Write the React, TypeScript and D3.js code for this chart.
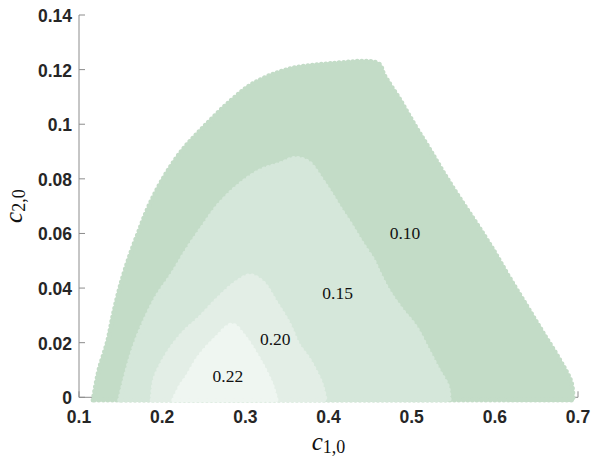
import React from 'react';
import * as d3 from 'd3';

// contour levels and their fills (outer to inner)
const levels = ['0.10', '0.15', '0.20', '0.22'];
const levelColors = ['#c3dcc7', '#d5e7da', '#e3eee6', '#eff6f1'];

// boundary of each feasible region, [c10, c20]
const region010: [number, number][] = [
  [0.117, -0.001], [0.124, 0.01], [0.134, 0.02], [0.141, 0.03], [0.149, 0.04],
  [0.159, 0.05], [0.171, 0.06], [0.184, 0.07], [0.201, 0.08], [0.223, 0.09],
  [0.25, 0.099], [0.284, 0.109], [0.31, 0.115], [0.35, 0.12], [0.402, 0.1222],
  [0.46, 0.1222], [0.467, 0.118], [0.486, 0.1089], [0.505, 0.099], [0.522, 0.0906],
  [0.54, 0.0814], [0.559, 0.0723], [0.579, 0.0631], [0.598, 0.054], [0.617, 0.0441],
  [0.639, 0.0331], [0.658, 0.0236], [0.678, 0.0137], [0.692, 0.0053], [0.694, -0.001],
];
const region015: [number, number][] = [
  [0.149, -0.001], [0.158, 0.01], [0.167, 0.019], [0.179, 0.028], [0.194, 0.037],
  [0.212, 0.045], [0.23, 0.054], [0.248, 0.062], [0.267, 0.07], [0.29, 0.077],
  [0.318, 0.083], [0.342, 0.0855], [0.36, 0.0875], [0.376, 0.086], [0.391, 0.08],
  [0.402, 0.075], [0.414, 0.069], [0.427, 0.063], [0.439, 0.057], [0.454, 0.05],
  [0.46, 0.046], [0.472, 0.039], [0.488, 0.032], [0.504, 0.026], [0.52, 0.017],
  [0.532, 0.01], [0.543, 0.004], [0.545, -0.001],
];
const region020: [number, number][] = [
  [0.188, -0.001], [0.191, 0.0064], [0.2, 0.0126], [0.212, 0.0184], [0.227, 0.024],
  [0.245, 0.029], [0.267, 0.036], [0.289, 0.042], [0.306, 0.0445], [0.321, 0.042],
  [0.336, 0.035], [0.352, 0.027], [0.364, 0.019], [0.376, 0.014], [0.391, 0.005],
  [0.396, -0.001],
];
const region022: [number, number][] = [
  [0.214, -0.001], [0.222, 0.004], [0.23, 0.0075], [0.245, 0.015], [0.266, 0.022],
  [0.284, 0.0265], [0.299, 0.022], [0.316, 0.014], [0.331, 0.005], [0.337, -0.001],
];
const regions = [region010, region015, region020, region022];

// where the level labels sit
const labelPos: [number, number][] = [
  [0.492, 0.058], [0.411, 0.036], [0.336, 0.019], [0.279, 0.0055],
];

const xTicks = [0.1, 0.2, 0.3, 0.4, 0.5, 0.6, 0.7];
const yTicks = [0, 0.02, 0.04, 0.06, 0.08, 0.1, 0.12, 0.14];

const W = 592;
const H = 458;
const margin = { top: 15, right: 14, bottom: 60.7, left: 79 };

export default function App() {
  const x = d3.scaleLinear().domain([0.1, 0.7]).range([margin.left, W - margin.right]);
  const y = d3.scaleLinear().domain([0, 0.14]).range([H - margin.bottom, margin.top]);
  const line = d3
    .line<[number, number]>()
    .x((d) => x(d[0]))
    .y((d) => y(d[1]))
    .curve(d3.curveCatmullRom.alpha(0.5));

  const axisColor = '#8c8c8c';
  const tickFont = { fontFamily: '"Liberation Sans", Arial, sans-serif', fontWeight: 700, fontSize: 17.5, fill: '#262626' };

  return (
    <svg width={W} height={H} style={{ position: 'absolute', left: 0, top: 0, background: '#fff' }}>
      {/* axes (drawn under the regions) */}
      <line x1={x(0.1)} x2={x(0.1)} y1={y(0)} y2={y(0.14)} stroke={axisColor} strokeWidth={1} />
      <line x1={x(0.1)} x2={x(0.7)} y1={y(0)} y2={y(0)} stroke={axisColor} strokeWidth={1} />
      {yTicks.map((t) => (
        <line key={'yt' + t} x1={x(0.1)} x2={x(0.1) + 6} y1={y(t)} y2={y(t)} stroke={axisColor} />
      ))}
      {xTicks.map((t) => (
        <line key={'xt' + t} x1={x(t)} x2={x(t)} y1={y(0)} y2={y(0) - 6} stroke={axisColor} />
      ))}

      {regions.map((r, i) => {
        const d = (line(r) || '') + 'Z';
        return (
          <g key={'r' + i}>
            <path d={d} fill={levelColors[i]} stroke={levelColors[i]} strokeWidth={2} strokeLinejoin="round" />
            <path
              d={d}
              fill="none"
              stroke={levelColors[i]}
              strokeWidth={5}
              strokeLinecap="round"
              strokeDasharray="0 4.5"
            />
          </g>
        );
      })}

      {levels.map((l, i) => (
        <text
          key={'lab' + l}
          x={x(labelPos[i][0])}
          y={y(labelPos[i][1])}
          textAnchor="middle"
          fontFamily='"Liberation Serif", "DejaVu Serif", serif'
          fontSize={17.5}
          fill="#111"
        >
          {l}
        </text>
      ))}

      {yTicks.map((t) => (
        <text key={'yl' + t} x={x(0.1) - 7} y={y(t) + 7} textAnchor="end" {...tickFont}>
          {d3.format('~g')(t)}
        </text>
      ))}
      {xTicks.map((t) => (
        <text key={'xl' + t} x={x(t)} y={423} textAnchor="middle" {...tickFont}>
          {d3.format('.1f')(t)}
        </text>
      ))}

      <text
        x={(x(0.1) + x(0.7)) / 2}
        y={450}
        textAnchor="middle"
        fontFamily='"Liberation Serif", "DejaVu Serif", serif'
        fill="#111"
      >
        <tspan fontStyle="italic" fontSize={25}>c</tspan>
        <tspan fontSize={18} dy={3}>1,0</tspan>
      </text>
      <text
        transform={`translate(22,${(y(0) + y(0.14)) / 2}) rotate(-90)`}
        textAnchor="middle"
        fontFamily='"Liberation Serif", "DejaVu Serif", serif'
        fill="#111"
      >
        <tspan fontStyle="italic" fontSize={25}>c</tspan>
        <tspan fontSize={18} dy={3}>2,0</tspan>
      </text>
    </svg>
  );
}
